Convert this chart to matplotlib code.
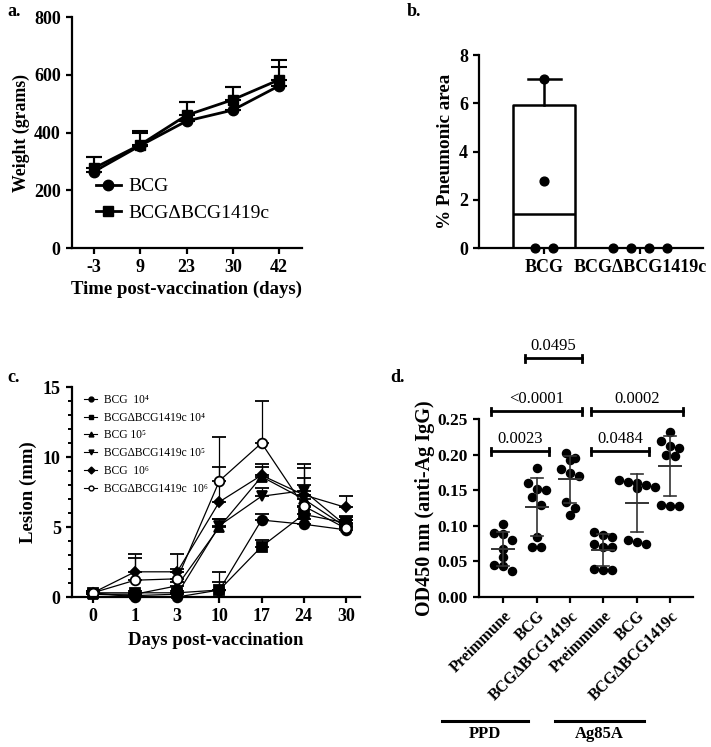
import numpy as np
import matplotlib
matplotlib.use("Agg")
import matplotlib.pyplot as plt
from matplotlib.lines import Line2D
import matplotlib.transforms as mtransforms

plt.rcParams['font.family'] = ['Liberation Serif', 'DejaVu Serif']
plt.rcParams['font.weight'] = 'bold'
plt.rcParams['axes.labelweight'] = 'bold'
plt.rcParams['axes.linewidth'] = 1.6
plt.rcParams['xtick.major.width'] = 1.6
plt.rcParams['ytick.major.width'] = 1.6
plt.rcParams['xtick.major.size'] = 4.5
plt.rcParams['ytick.major.size'] = 4.5

# ---- panel a: body weight ----
weight_days = ['-3', '9', '23', '30', '42']
weight_bcg = [265, 355, 440, 478, 562]
weight_bcg_err = [50, 45, 65, 80, 64]
weight_mut = [277, 358, 460, 514, 583]
weight_mut_err = [38, 48, 45, 44, 69]

# ---- panel b: pneumonic area ----
pneu_groups = ['BCG', 'BCGΔBCG1419c']
pneu_bcg = [7.0, 2.8, 0.0, 0.0]
pneu_mut = [0.0, 0.0, 0.0, 0.0]

# ---- panel c: lesion size ----
lesion_days = ['0', '1', '3', '10', '17', '24', '30']
lesion_labels = ['BCG  10⁴', 'BCGΔBCG1419c 10⁴', 'BCG 10⁵',
                 'BCGΔBCG1419c 10⁵', 'BCG  10⁶', 'BCGΔBCG1419c  10⁶']
lesion_vals = [
    [0.3, 0.0, 0.0, 0.5, 5.5, 5.2, 4.8],
    [0.3, 0.3, 0.3, 0.5, 3.6, 5.9, 5.3],
    [0.2, 0.2, 0.8, 5.0, 8.6, 7.0, 5.0],
    [0.2, 0.1, 0.2, 5.1, 7.2, 7.6, 5.1],
    [0.3, 1.8, 1.8, 6.8, 8.7, 7.3, 6.4],
    [0.3, 1.2, 1.3, 8.3, 11.0, 6.5, 4.9],
]
lesion_err = [
    [0.1, 0.0, 0.0, 1.3, 0.4, 0.4, 0.4],
    [0.1, 0.1, 0.1, 0.6, 0.5, 0.5, 0.4],
    [0.1, 0.1, 0.3, 0.6, 0.7, 1.5, 0.5],
    [0.1, 0.1, 0.1, 0.5, 0.6, 1.9, 0.7],
    [0.1, 1.3, 0.2, 2.5, 0.8, 1.9, 0.8],
    [0.1, 1.6, 1.8, 3.1, 3.0, 1.5, 0.6],
]
lesion_markers = ['o', 's', '^', 'v', 'D', 'o']
lesion_open = [False, False, False, False, False, True]

# ---- panel d: IgG ELISA ----
elisa_groups = ['Preimmune', 'BCG', 'BCGΔBCG1419c', 'Preimmune', 'BCG', 'BCGΔBCG1419c']
elisa_antigens = ['PPD', 'Ag85A']
elisa_vals = [
    [0.102, 0.090, 0.088, 0.080, 0.068, 0.056, 0.045, 0.043, 0.036],
    [0.182, 0.160, 0.152, 0.150, 0.140, 0.130, 0.085, 0.070, 0.070],
    [0.203, 0.195, 0.192, 0.180, 0.175, 0.170, 0.133, 0.125, 0.115],
    [0.092, 0.087, 0.085, 0.075, 0.070, 0.070, 0.040, 0.038, 0.038],
    [0.165, 0.162, 0.160, 0.158, 0.155, 0.153, 0.080, 0.078, 0.075],
    [0.232, 0.220, 0.212, 0.210, 0.200, 0.198, 0.130, 0.128, 0.128],
]
elisa_pvals = [(0, 1, '0.0023', 0.205), (0, 2, '<0.0001', 0.261),
               (1, 2, '0.0495', 0.336), (3, 4, '0.0484', 0.205),
               (3, 5, '0.0002', 0.261)]


def swarm(values, ythresh, spacing):
    # GraphPad-like: points with similar values share a row, centred on the group
    order = np.argsort(values)[::-1]
    offs = np.zeros(len(values))
    row = []
    for i in list(order) + [None]:
        if i is not None and (not row or abs(values[row[0]] - values[i]) < ythresh):
            row.append(i)
            continue
        n = len(row)
        for k, j in enumerate(row):
            offs[j] = (k - (n - 1) / 2) * spacing
        row = [i] if i is not None else []
    return offs


fig = plt.figure(figsize=(7.11, 7.47), dpi=100)

# ================= a =================
ax = fig.add_axes([0.101, 0.668, 0.324, 0.309])
xa = np.arange(len(weight_days))
for vals, err, mk, lab in [(weight_bcg, weight_bcg_err, 'o', 'BCG'),
                           (weight_mut, weight_mut_err, 's', 'BCGΔBCG1419c')]:
    ax.errorbar(xa, vals, yerr=[np.zeros(len(err)), err], color='black', marker=mk,
                ms=7.5, lw=2, elinewidth=1.5, capsize=6, capthick=1.5, label=lab)
ax.set_xlim(-0.48, 4.5)
ax.set_ylim(0, 800)
ax.set_yticks([0, 200, 400, 600, 800])
ax.set_xticks(xa)
ax.set_xticklabels(weight_days)
ax.tick_params(labelsize=13)
ax.set_xlabel('Time post-vaccination (days)', fontsize=13.5, labelpad=3)
ax.set_ylabel('Weight (grams)', fontsize=12.8, labelpad=3)
for s in ['top', 'right']:
    ax.spines[s].set_visible(False)
handles = [Line2D([], [], color='black', marker='o', ms=7.5, lw=2),
           Line2D([], [], color='black', marker='s', ms=7.5, lw=2)]
ax.legend(handles, ['BCG', 'BCGΔBCG1419c'], loc='lower left', bbox_to_anchor=(0.07, 0.08),
          frameon=False, prop={'weight': 'normal', 'size': 14}, handlelength=1.3,
          handletextpad=0.4, labelspacing=0.45, borderaxespad=0)
fig.text(0.011, 0.984, 'a.', fontsize=13, va='center')

# ================= b =================
ax = fig.add_axes([0.674, 0.668, 0.315, 0.258])
bstats = []
for vals in [pneu_bcg, pneu_mut]:
    q1, med, q3 = np.percentile(vals, [25, 50, 75], method='weibull')
    bstats.append(dict(med=med, q1=q1, q3=q3, whislo=min(vals), whishi=max(vals)))
props = dict(color='black', lw=1.8)
ax.bxp(bstats, positions=[0, 1], widths=0.65, showfliers=False,
       boxprops=props, medianprops=props, whiskerprops=props,
       capprops=props, capwidths=[0.35, 0.35], manage_ticks=False)
for k, vals in enumerate([pneu_bcg, pneu_mut]):
    v = np.array(vals)
    ax.scatter(k + swarm(v, 0.3, 0.185), v, s=40, color='black', zorder=4, clip_on=False)
ax.set_xlim(-0.68, 1.66)
ax.set_ylim(0, 8)
ax.set_yticks([0, 2, 4, 6, 8])
ax.set_xticks([0, 1])
ax.set_xticklabels(pneu_groups)
ax.tick_params(labelsize=13)
ax.set_ylabel('% Pneumonic area', fontsize=13.8, labelpad=4)
for s in ['top', 'right']:
    ax.spines[s].set_visible(False)
fig.text(0.572, 0.984, 'b.', fontsize=13, va='center')

# ================= c =================
ax = fig.add_axes([0.101, 0.2008, 0.405, 0.281])
xc = np.arange(len(lesion_days))
for vals, err, mk, op, lab in zip(lesion_vals, lesion_err, lesion_markers, lesion_open, lesion_labels):
    ax.errorbar(xc, vals, yerr=[np.zeros(len(err)), err], color='black', marker=mk,
                ms=7 if mk != 'D' else 5, mfc='white' if op else 'black', mew=1.3,
                lw=0.9, elinewidth=0.9, capsize=5, capthick=0.9, label=lab, clip_on=False)
ax.set_xlim(-0.5, 6.33)
ax.set_ylim(0, 15)
ax.set_yticks([0, 5, 10, 15])
ax.set_yticks(np.arange(0, 16, 1), minor=True)
ax.tick_params(axis='y', which='minor', length=3, width=1.4)
ax.set_xticks(xc)
ax.set_xticklabels(lesion_days)
ax.tick_params(labelsize=13)
ax.set_xlabel('Days post-vaccination', fontsize=13.5, labelpad=5)
ax.set_ylabel('Lesion (mm)', fontsize=13.5, labelpad=4)
for s in ['top', 'right']:
    ax.spines[s].set_visible(False)
handles = []
for mk, op in zip(lesion_markers, lesion_open):
    handles.append(Line2D([], [], color='black', marker=mk, ms=3.5, lw=0.8,
                          mfc='white' if op else 'black'))
ax.legend(handles, lesion_labels, loc='upper left', bbox_to_anchor=(0.025, 0.99),
          frameon=False, prop={'weight': 'normal', 'size': 8.3}, handlelength=1.2,
          handletextpad=0.6, labelspacing=0.5, borderaxespad=0)
fig.text(0.011, 0.494, 'c.', fontsize=13, va='center')

# ================= d =================
ax = fig.add_axes([0.674, 0.2008, 0.301, 0.238])
xd = np.arange(len(elisa_groups))
for k, vals in enumerate(elisa_vals):
    v = np.array(vals)
    ax.scatter(k + swarm(v, 0.011, 0.27), v, s=34, color='black', zorder=3)
    m, sd = v.mean(), v.std(ddof=1)
    ax.plot([k - 0.33, k + 0.33], [m, m], color='#333333', lw=1.4, zorder=4)
    ax.plot([k, k], [m - sd, m + sd], color='#333333', lw=1.2, zorder=4)
    for yy in (m - sd, m + sd):
        ax.plot([k - 0.18, k + 0.18], [yy, yy], color='#333333', lw=1.2, zorder=4)
for i, j, txt, yb in elisa_pvals:
    x0, x1 = i - 0.36, j + 0.37
    ax.plot([x0, x1], [yb, yb], color='black', lw=2, clip_on=False)
    for xx in (x0, x1):
        ax.plot([xx, xx], [yb - 0.005, yb + 0.005], color='black', lw=2, clip_on=False)
    ax.text((x0 + x1) / 2, yb + 0.006, txt, ha='center', va='bottom', fontsize=12,
            fontweight='normal', clip_on=False)
ax.set_xlim(-0.72, 5.69)
ax.set_ylim(0, 0.25)
ax.set_yticks([0, 0.05, 0.10, 0.15, 0.20, 0.25])
ax.set_yticklabels(['0.00', '0.05', '0.10', '0.15', '0.20', '0.25'])
ax.set_xticks(xd)
ax.set_xticklabels(elisa_groups, rotation=45, ha='right', rotation_mode='anchor')
ax.tick_params(labelsize=12.5)
ax.tick_params(axis='x', labelsize=11.5)
ax.set_ylabel('OD450 nm (anti-Ag IgG)', fontsize=14.5, labelpad=2)
for s in ['top', 'right']:
    ax.spines[s].set_visible(False)
trans = mtransforms.blended_transform_factory(ax.transData, ax.transAxes)
for (x0, x1), name in zip([(-1.83, 0.75), (1.56, 4.22)], elisa_antigens):
    ax.plot([x0, x1], [-0.70, -0.70], color='black', lw=2.2, transform=trans, clip_on=False)
    ax.text((x0 + x1) / 2, -0.725, name, ha='center', va='top', fontsize=12,
            transform=trans)
fig.text(0.549, 0.494, 'd.', fontsize=13, va='center')

fig.savefig('out.png', dpi=100)
